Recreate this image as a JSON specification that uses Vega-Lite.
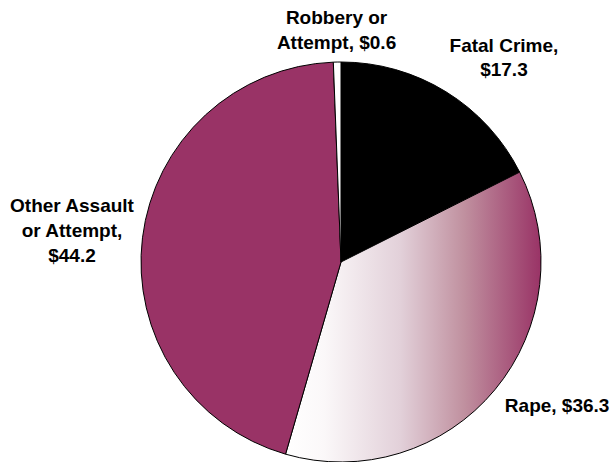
{
  "$schema": "https://vega.github.io/schema/vega-lite/v6.json",
  "width": 538,
  "height": 400,
  "autosize": "none",
  "padding": {"left": 72, "top": 62, "right": 0, "bottom": 0},
  "background": "#ffffff",
  "data": {
    "values": [
      {"cat": "Fatal Crime", "value": 17.3, "ord": 1, "label": "Fatal Crime,\n$17.3"},
      {"cat": "Rape", "value": 36.3, "ord": 2, "label": "Rape, $36.3"},
      {"cat": "Other Assault or Attempt", "value": 44.2, "ord": 3, "label": "Other Assault\nor Attempt,\n$44.2"},
      {"cat": "Robbery or Attempt", "value": 0.6, "ord": 4, "label": "Robbery or\nAttempt, $0.6"}
    ]
  },
  "encoding": {
    "theta": {"field": "value", "type": "quantitative", "stack": true},
    "order": {"field": "ord", "type": "quantitative"},
    "detail": {"field": "cat", "type": "nominal"}
  },
  "layer": [
    {
      "mark": {"type": "arc", "outerRadius": 200, "stroke": "#000000", "strokeWidth": 1},
      "encoding": {
        "fill": {
          "condition": {
            "test": "datum.cat === 'Rape'",
            "value": {"gradient": "linear", "x1": 0, "y1": 0, "x2": 1, "y2": 0,
              "stops": [
                {"offset": 0, "color": "#ffffff"},
                {"offset": 0.15, "color": "#fbf8f9"},
                {"offset": 0.45, "color": "#e2d0d9"},
                {"offset": 0.7, "color": "#c0909f"},
                {"offset": 1, "color": "#993366"}
              ]}
          },
          "field": "cat",
          "type": "nominal",
          "scale": {
            "domain": ["Fatal Crime", "Rape", "Other Assault or Attempt", "Robbery or Attempt"],
            "range": ["#000000", "#ffffff", "#993366", "#ffffff"]
          },
          "legend": null
        }
      }
    },
    {
      "mark": {"type": "text", "radius": 232, "dy": -12, "font": "Liberation Sans", "fontWeight": "bold", "fontSize": 19, "lineBreak": "\n", "lineHeight": 24.5, "align": "center", "baseline": "middle", "color": "#000000"},
      "encoding": {"text": {"condition": {"test": "datum.cat === 'Robbery or Attempt'", "field": "label"}, "value": ""}}
    },
    {
      "mark": {"type": "text", "radius": 240, "dx": 37, "dy": -12, "font": "Liberation Sans", "fontWeight": "bold", "fontSize": 19, "lineBreak": "\n", "lineHeight": 24.5, "align": "center", "baseline": "middle", "color": "#000000"},
      "encoding": {"text": {"condition": {"test": "datum.cat === 'Fatal Crime'", "field": "label"}, "value": ""}}
    },
    {
      "mark": {"type": "text", "radius": 271, "dy": -23, "font": "Liberation Sans", "fontWeight": "bold", "fontSize": 19, "lineBreak": "\n", "lineHeight": 25, "align": "center", "baseline": "middle", "color": "#000000"},
      "encoding": {"text": {"condition": {"test": "datum.cat === 'Other Assault or Attempt'", "field": "label"}, "value": ""}}
    },
    {
      "mark": {"type": "text", "radius": 225, "dx": 43, "font": "Liberation Sans", "fontWeight": "bold", "fontSize": 19, "lineBreak": "\n", "lineHeight": 24.5, "align": "center", "baseline": "middle", "color": "#000000"},
      "encoding": {"text": {"condition": {"test": "datum.cat === 'Rape'", "field": "label"}, "value": ""}}
    }
  ]
}
